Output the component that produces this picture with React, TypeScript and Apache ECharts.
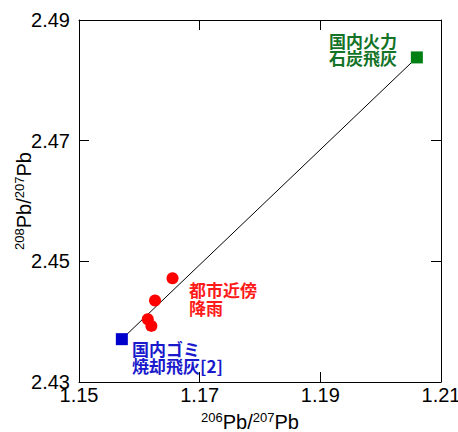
import React, { useEffect, useRef } from "react";
import * as echarts from "echarts";

const rainX = [1.1655, 1.1626, 1.1614, 1.162];
const rainY = [2.4472, 2.4435, 2.4404, 2.4393];
const wasteAsh = [1.1571, 2.4371];
const coalAsh = [1.206, 2.4838];
const xTicks = [1.15, 1.17, 1.19, 1.21];
const yTicks = [2.43, 2.45, 2.47, 2.49];
const coalLabel = ["国内火力", "石炭飛灰"];
const rainLabel = ["都市近傍", "降雨"];
const wasteLabel = ["国内ゴミ", "焼却飛灰[2]"];

const FONT = "'Liberation Sans', Arial, sans-serif";
const CJK = "'Noto Sans CJK JP', sans-serif";

export default function App() {
  const ref = useRef<HTMLDivElement>(null);
  useEffect(() => {
    if (!ref.current) return;
    const chart = echarts.init(ref.current, undefined, { renderer: "svg" });
    const rich = {
      sup: { fontSize: 13, fontFamily: FONT, color: "#000", padding: [0, 0, 9, 0] },
      m: { fontSize: 20, fontFamily: FONT, color: "#000" },
    };
    const axisCommon = {
      type: "value" as const,
      interval: 0.02,
      axisLine: { show: true, lineStyle: { color: "#000", width: 1 } },
      axisTick: { show: true, inside: true, length: 10, lineStyle: { color: "#000" } },
      splitLine: { show: false },
    };
    const textBlock = (lines: string[], x: number, y0: number, color: string) =>
      lines.map((t, i) => ({
        type: "text",
        x,
        y: y0 + i * 17.5,
        style: {
          text: t,
          font: `bold 17px ${CJK}`,
          fill: color,
          verticalAlign: "middle",
          align: "left",
        },
      }));
    chart.setOption({
      animation: false,
      grid: {
        left: 79,
        top: 20,
        width: 362,
        height: 362,
        containLabel: false,
        outerBoundsMode: "none",
      },
      xAxis: [
        {
          ...axisCommon,
          min: 1.15,
          max: 1.21,
          position: "bottom",
          axisLabel: {
            fontSize: 20,
            fontFamily: FONT,
            color: "#000",
            margin: 3,
            formatter: (v: number) => {
              const t = xTicks.find((k) => Math.abs(k - v) < 1e-6);
              return t !== undefined ? t.toFixed(2) : "";
            },
          },
          name: "{sup|206}{m|Pb/}{sup|207}{m|Pb}",
          nameLocation: "middle",
          nameGap: 29,
          nameMoveOverlap: false,
          nameTextStyle: { rich, padding: [0, 20, 0, 0] },
        },
        {
          ...axisCommon,
          min: 1.15,
          max: 1.21,
          position: "top",
          axisLabel: { show: false },
        },
      ],
      yAxis: [
        {
          ...axisCommon,
          min: 2.43,
          max: 2.49,
          position: "left",
          axisLabel: {
            fontSize: 20,
            fontFamily: FONT,
            color: "#000",
            margin: 9,
            formatter: (v: number) => {
              const t = yTicks.find((k) => Math.abs(k - v) < 1e-6);
              return t !== undefined ? t.toFixed(2) : "";
            },
          },
          name: "{sup|208}{m|Pb/}{sup|207}{m|Pb}",
          nameLocation: "middle",
          nameGap: 44,
          nameMoveOverlap: false,
          nameTextStyle: { rich },
        },
        {
          ...axisCommon,
          min: 2.43,
          max: 2.49,
          position: "right",
          axisLabel: { show: false },
        },
      ],
      series: [
        {
          type: "line",
          data: [wasteAsh, coalAsh],
          symbol: "none",
          lineStyle: { color: "#000", width: 1 },
          z: 1,
        },
        {
          type: "scatter",
          data: rainX.map((x, i) => [x, rainY[i]]),
          symbol: "circle",
          symbolSize: 12,
          itemStyle: { color: "#ff0000", opacity: 1 },
          z: 3,
        },
        {
          type: "scatter",
          data: [wasteAsh],
          symbol: "rect",
          symbolSize: 12,
          itemStyle: { color: "#0000cc", opacity: 1 },
          z: 3,
        },
        {
          type: "scatter",
          data: [coalAsh],
          symbol: "rect",
          symbolSize: 12,
          itemStyle: { color: "#008012", opacity: 1 },
          z: 3,
        },
      ],
      graphic: [
        ...textBlock(coalLabel, 329, 40, "#137326"),
        ...textBlock(rainLabel, 189, 289.5, "#ff1a1a"),
        ...textBlock(wasteLabel, 132, 348, "#1a1acc"),
      ],
    });
    return () => chart.dispose();
  }, []);
  return <div ref={ref} style={{ width: 458, height: 432, position: "absolute", left: 0, top: 0 }} />;
}
